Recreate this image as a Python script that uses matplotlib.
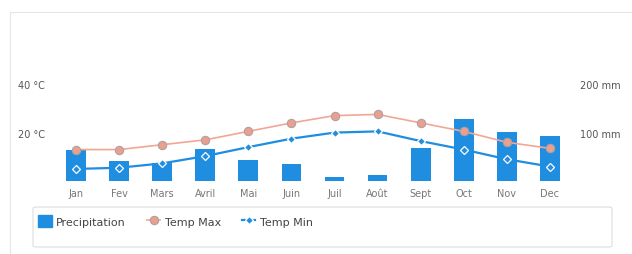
import matplotlib
matplotlib.use("Agg")
import matplotlib.pyplot as plt
from matplotlib.patches import FancyBboxPatch, Rectangle
from matplotlib.lines import Line2D
import numpy as np

months = ["Jan", "Fev", "Mars", "Avril", "Mai", "Juin", "Juil", "Août", "Sept", "Oct", "Nov", "Dec"]
precip_mm = [65, 42, 38, 67, 44, 35, 8, 12, 69, 129, 102, 92]
temp_max = [13, 13, 15, 17, 20.5, 24, 27, 27.5, 24, 20.5, 16, 13.5]
temp_min = [5, 5.5, 7.3, 10.3, 14, 17.5, 20, 20.5, 16.5, 13, 9, 6]
left_ticks = [20, 40]
right_ticks = [100, 200]

BLUE = "#1f8ee0"
SALMON = "#f2a696"

fig = plt.figure(figsize=(6.32, 2.55), dpi=100)
fig.patch.set_facecolor("white")

# faint outer frame (top and left)
fig.add_artist(Line2D([10 / 632, 1.0], [1 - 13 / 255, 1 - 13 / 255], transform=fig.transFigure,
                      color="#e6e6e6", lw=0.8))
fig.add_artist(Line2D([10 / 632, 10 / 632], [0, 1 - 13 / 255], transform=fig.transFigure,
                      color="#e6e6e6", lw=0.8))

ax = fig.add_axes([0.0862, 0.286, 0.818, 0.557])
ax2 = ax.twinx()
x = np.arange(len(months))

tmax_top = 58.6
ax.set_ylim(0, tmax_top)
ax2.set_ylim(0, tmax_top * 5)
ax.set_xlim(-0.5, len(months) - 0.5)

ax2.bar(x, precip_mm, width=0.46, color=BLUE, zorder=1)
ax2.set_zorder(0)
ax.set_zorder(1)
ax.patch.set_visible(False)

ax.plot(x, temp_max, color=SALMON, lw=1.2, marker="o", markersize=6,
        markerfacecolor="#e9a090", markeredgecolor="#b0a0a0", markeredgewidth=0.8, label="Temp Max")
ax.plot(x, temp_min, color=BLUE, lw=1.6, marker="D", markersize=4.5,
        markerfacecolor=BLUE, markeredgecolor="white", markeredgewidth=0.9, label="Temp Min")

for a in (ax, ax2):
    for s in a.spines.values():
        s.set_visible(False)

ax.set_xticks(x)
ax.set_xticklabels(months)
ax.tick_params(axis="x", length=0, pad=5, labelsize=7, labelcolor="#777777")
ax.set_yticks(left_ticks)
ax.set_yticklabels([f"{t} °C" for t in left_ticks])
ax.tick_params(axis="y", length=0, pad=7, labelsize=7, labelcolor="#555555")
ax2.set_yticks(right_ticks)
ax2.set_yticklabels([f"{t} mm" for t in right_ticks])
ax2.tick_params(axis="y", length=0, pad=6, labelsize=7, labelcolor="#555555")

# legend box
box = FancyBboxPatch((33 / 632, 7 / 255), 579 / 632, 40 / 255,
                     boxstyle="round,pad=0,rounding_size=0.006",
                     transform=fig.transFigure, facecolor="white", edgecolor="#dddddd", lw=0.8)
fig.patches.append(box)

handles = [Rectangle((0, 0), 1, 1, facecolor=BLUE, edgecolor=BLUE),
           ax.lines[0], ax.lines[1]]
labels = ["Precipitation", "Temp Max", "Temp Min"]
leg = fig.legend(handles, labels, loc="center left", bbox_to_anchor=(36 / 632, 1 - 222 / 255), ncol=3,
                 frameon=False, fontsize=8, labelcolor="#444444", handlelength=1.2,
                 handleheight=1.3, handletextpad=0.4, columnspacing=1.9, borderaxespad=0.0,
                 borderpad=0.2)

fig.savefig("out.png", dpi=100)
